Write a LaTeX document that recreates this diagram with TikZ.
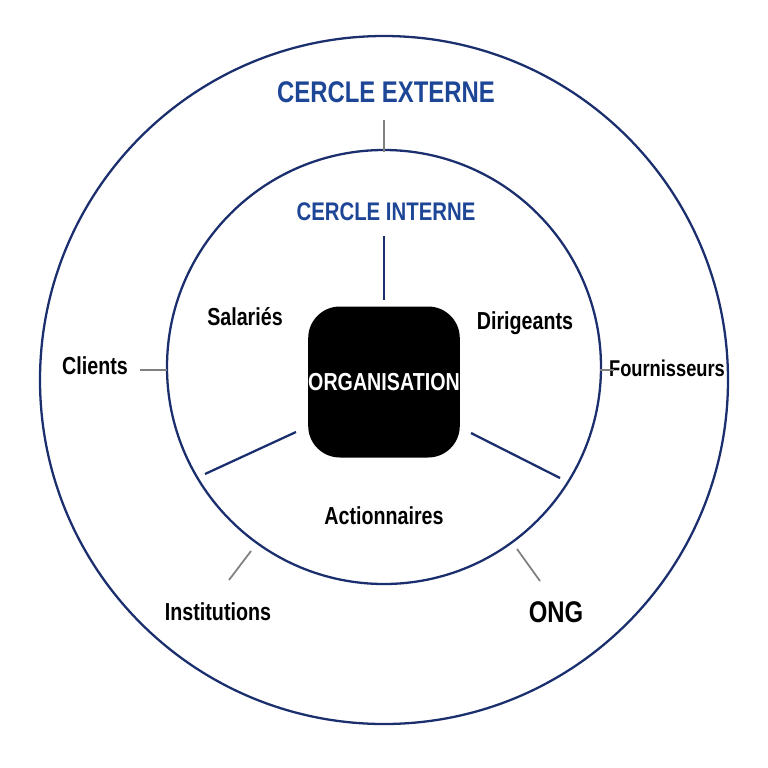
\documentclass[tikz,border=0pt]{standalone}
\usepackage{fontspec}
\setmainfont{Liberation Sans}[FakeStretch=0.8]
\definecolor{navy}{HTML}{1B2F6E}
\definecolor{tblue}{HTML}{1E4696}
\begin{document}
\begin{tikzpicture}[x=0.02cm,y=-0.02cm,
  lbl/.style={font=\bfseries\fontsize{14}{16}\selectfont, text=black, inner sep=0},
  ttl/.style={font=\bfseries\fontsize{17}{19}\selectfont, text=tblue, inner sep=0},
  gl/.style={draw=gray, line width=1pt},
  nl/.style={draw=navy, line width=1.3pt}]
\useasboundingbox (0,0) rectangle (768,768);
\draw[navy, line width=1.3pt] (384,380) circle (344);
\draw[navy, line width=1.3pt] (384,367) circle (217);
\node[fill=black, rounded corners=18pt, inner sep=0, minimum width=148*0.02cm, minimum height=151*0.02cm, text=white, font=\bfseries\fontsize{14}{16}\selectfont] (org) at (384,382) {ORGANISATION};
\node[ttl] (ext) at (386,92) {CERCLE EXTERNE};
\node[ttl, font=\bfseries\fontsize{14.5}{17}\selectfont] (int) at (386,212) {CERCLE INTERNE};
\node[lbl] (sal) at (245,317) {Salariés};
\node[lbl] (dir) at (525,323) {Dirigeants};
\node[lbl] (cli) at (95,366) {Clients};
\node[lbl, font=\bfseries\fontsize{13}{15}\selectfont] (fou) at (667,368) {Fournisseurs};
\node[lbl] (act) at (384,516) {Actionnaires};
\node[lbl] (ins) at (218,612) {Institutions};
\node[lbl, font=\bfseries\fontsize{17}{19}\selectfont] (ong) at (556,612) {ONG};
\coordinate (a1) at (384,120); \coordinate (a2) at (384,152);
\coordinate (b1) at (384,236); \coordinate (b2) at (384,300);
\coordinate (c1) at (296,432); \coordinate (c2) at (205,474);
\coordinate (d1) at (471,433); \coordinate (d2) at (560,478);
\coordinate (e1) at (140,370); \coordinate (e2) at (167,370);
\coordinate (f1) at (600,370); \coordinate (f2) at (614,370);
\coordinate (g1) at (251,551); \coordinate (g2) at (229,580);
\coordinate (h1) at (517,549); \coordinate (h2) at (540,581);
\draw[gl] (a1) -- (a2);
\draw[nl] (b1) -- (b2);
\draw[nl] (c1) -- (c2);
\draw[nl] (d1) -- (d2);
\draw[gl] (e1) -- (e2);
\draw[gl] (f1) -- (f2);
\draw[gl] (g1) -- (g2);
\draw[gl] (h1) -- (h2);
\end{tikzpicture}
\end{document}
